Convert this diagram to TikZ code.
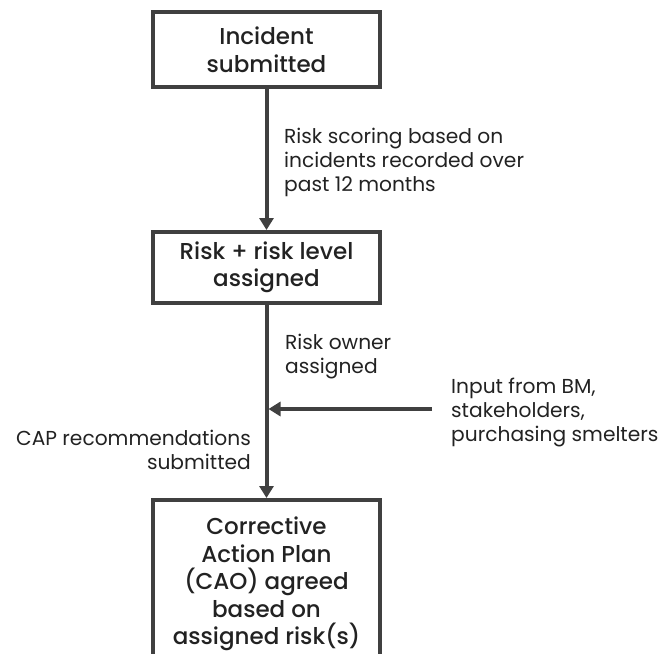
\documentclass[tikz,border=0pt]{standalone}
\usepackage{fontspec}
\setmainfont{Poppins}
\newfontfamily\boxfont{Poppins Medium}
\usetikzlibrary{arrows.meta}
\definecolor{linec}{HTML}{404040}
\definecolor{textc}{HTML}{222222}
\tikzset{
  stepbox/.style={draw=linec, line width=4pt, fill=white, minimum width=227pt,
    align=center, text=textc, font=\boxfont\fontsize{23}{27.5}\selectfont, inner sep=0pt},
  flow/.style={draw=linec, line width=4pt, -{Triangle[width=14pt,length=12pt]}},
  lab/.style={text=textc, font=\fontsize{20.2}{24}\selectfont, inner sep=0pt}
}
\begin{document}
\begin{tikzpicture}[x=1pt,y=1pt]
\useasboundingbox (0,0) rectangle (665,-654);
\node[stepbox, minimum height=75pt] (b1) at (266.5,-49.5) {Incident\\submitted};
\node[stepbox, minimum height=71pt] (b2) at (266.5,-267.5) {Risk + risk level\\assigned};
\node[stepbox, anchor=north, inner ysep=17pt, text depth=130pt] (b3) at (266.5,-498) {Corrective\\Action Plan\\(CAO) agreed\\based on\\assigned risk(s)};
\draw[flow] (b1.south) -- (b2.north);
\draw[flow] (b2.south) -- (b3.north);
\coordinate (inp) at (432,-409);
\coordinate (join) at (268.5,-409);
\draw[flow] (inp) -- (join);
\node[lab, anchor=base west, align=left] (l1) at (284,-191) {Risk scoring based on\\incidents recorded over\\past 12 months};
\node[lab, anchor=base west, align=left] (l2) at (285,-373) {Risk owner\\assigned};
\node[lab, anchor=base west, align=left] (l3) at (451,-441) {Input from BM,\\stakeholders,\\purchasing smelters};
\node[lab, anchor=base east, align=right] (l4) at (251,-469) {CAP recommendations\\submitted};
\end{tikzpicture}
\end{document}
